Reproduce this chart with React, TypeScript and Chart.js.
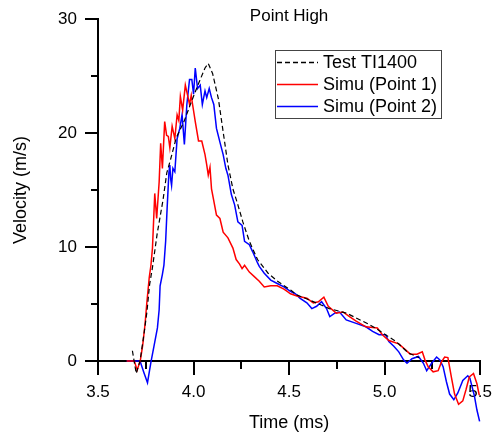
import React, { useEffect, useRef } from "react";
import { Chart, registerables } from "chart.js";

Chart.register(...registerables);

const chartTitle = "Point High";
const xAxisTitle = "Time (ms)";
const yAxisTitle = "Velocity (m/s)";
const seriesLabels = ["Test TI1400", "Simu (Point 1)", "Simu (Point 2)"];

const xTicks = [3.5, 4.0, 4.5, 5.0, 5.5];
const xMinorTicks = [3.75, 4.25, 4.75, 5.25];
const yTicks = [0, 10, 20, 30];
const yMinorTicks = [5, 15, 25];

const testTime = [3.68, 3.7, 3.72, 3.74, 3.756, 3.77, 3.785, 3.81, 3.84, 3.86, 3.88, 3.91, 3.95, 3.99, 4.03, 4.06, 4.077, 4.1, 4.13, 4.155, 4.18, 4.206, 4.232, 4.258, 4.292, 4.335, 4.39, 4.44, 4.51, 4.54, 4.6, 4.71, 4.8, 4.92, 4.95, 5.06, 5.125, 5.18];
const testVel = [0.9, -1.1, 0.0, 2.3, 4.3, 6.7, 8.2, 11.2, 14.1, 16.5, 17.7, 19.6, 21.0, 22.8, 24.5, 25.7, 26.1, 25.2, 23.0, 20.1, 17.2, 15.1, 13.7, 12.2, 10.5, 8.9, 7.7, 7.0, 6.2, 5.8, 5.4, 4.6, 4.2, 3.2, 2.9, 1.7, 0.7, 0.3];

const p1Time = [3.65, 3.69, 3.705, 3.722, 3.734, 3.746, 3.756, 3.768, 3.777, 3.785, 3.797, 3.807, 3.82, 3.828, 3.837, 3.849, 3.859, 3.868, 3.876, 3.888, 3.902, 3.914, 3.923, 3.931, 3.943, 3.957, 3.969, 3.979, 3.988, 3.995, 4.009, 4.026, 4.043, 4.06, 4.069, 4.077, 4.086, 4.094, 4.103, 4.12, 4.138, 4.155, 4.18, 4.206, 4.223, 4.241, 4.254, 4.267, 4.292, 4.318, 4.344, 4.37, 4.404, 4.438, 4.473, 4.49, 4.507, 4.541, 4.593, 4.627, 4.653, 4.682, 4.705, 4.747, 4.782, 4.816, 4.851, 4.902, 4.962, 4.988, 5.022, 5.074, 5.108, 5.134, 5.169, 5.197, 5.211, 5.228, 5.254, 5.28, 5.297, 5.314, 5.331, 5.349, 5.366, 5.387, 5.409, 5.426, 5.443, 5.465, 5.483, 5.495];
const p1Vel = [0, 0, -0.8, 0.1, 1.4, 3.2, 5.2, 7.3, 8.4, 9.9, 14.7, 12.5, 15.7, 19.1, 16.9, 21.0, 19.8, 19.7, 18.7, 20.6, 19.5, 21.6, 21.1, 23.2, 22.0, 24.2, 23.3, 22.5, 23.3, 22.5, 21.0, 19.3, 19.3, 18.1, 17.2, 16.3, 17.0, 15.1, 14.3, 12.8, 12.5, 11.3, 10.8, 9.9, 8.9, 8.5, 8.1, 8.4, 7.8, 7.4, 7.0, 6.5, 6.6, 6.6, 6.3, 6.1, 5.9, 5.7, 5.5, 5.1, 5.2, 5.6, 4.8, 4.2, 4.3, 3.9, 3.5, 3.0, 2.9, 2.3, 1.8, 1.5, 1.0, 0.6, 0.6, 0.8, 0.1, -0.5, -0.95, -0.85, -0.1, 0.35, 0.3, -1.4, -2.9, -3.8, -3.5, -2.5, -1.4, -1.1, -2.0, -3.0];

const p2Time = [3.65, 3.72, 3.74, 3.759, 3.777, 3.794, 3.811, 3.82, 3.825, 3.837, 3.845, 3.854, 3.862, 3.871, 3.876, 3.88, 3.885, 3.892, 3.902, 3.914, 3.928, 3.94, 3.952, 3.965, 3.979, 3.991, 4.0, 4.009, 4.021, 4.035, 4.046, 4.06, 4.069, 4.082, 4.094, 4.106, 4.12, 4.138, 4.155, 4.169, 4.18, 4.198, 4.215, 4.232, 4.254, 4.267, 4.292, 4.309, 4.335, 4.344, 4.37, 4.404, 4.438, 4.473, 4.507, 4.532, 4.558, 4.593, 4.619, 4.644, 4.67, 4.696, 4.713, 4.739, 4.764, 4.799, 4.851, 4.902, 4.937, 4.971, 5.005, 5.022, 5.048, 5.074, 5.099, 5.117, 5.143, 5.177, 5.203, 5.22, 5.246, 5.272, 5.289, 5.306, 5.323, 5.34, 5.362, 5.383, 5.409, 5.435, 5.446, 5.469, 5.483, 5.497];
const p2Vel = [0, 0, -1.0, -1.9, -0.1, 1.4, 2.9, 4.5, 6.6, 7.6, 8.4, 10.5, 13.5, 16.5, 17.2, 16.0, 15.4, 16.9, 16.6, 19.5, 20.4, 21.6, 19.0, 22.5, 24.7, 24.7, 23.4, 25.7, 23.9, 24.2, 22.5, 23.7, 23.1, 23.9, 23.1, 22.5, 20.4, 19.2, 18.1, 16.9, 16.3, 14.6, 13.7, 12.2, 11.9, 10.5, 10.2, 9.6, 8.6, 8.3, 7.7, 7.1, 6.8, 6.5, 6.1, 5.9, 5.5, 5.1, 4.6, 4.8, 5.2, 4.6, 3.9, 4.2, 4.3, 3.6, 3.3, 3.0, 2.6, 2.3, 2.3, 1.7, 1.3, 0.8, 0.1, -0.2, 0.2, 0.4, -0.2, -0.85, -0.2, 0.35, 0.1, -0.5, -1.8, -2.9, -3.4, -2.8, -1.7, -1.3, -1.5, -3.0, -4.3, -5.3];

const FONT = '"Liberation Sans", Arial, sans-serif';

const decorPlugin = {
  id: "decor",
  beforeDatasetsDraw(chart: any) {
    const { ctx, chartArea: a } = chart;
    const xs = chart.scales.x;
    const ys = chart.scales.y;
    ctx.save();
    ctx.strokeStyle = "#000";
    ctx.lineWidth = 2;
    xMinorTicks.forEach((v) => {
      const px = Math.round(xs.getPixelForValue(v));
      ctx.beginPath();
      ctx.moveTo(px, a.bottom);
      ctx.lineTo(px, a.bottom + 8);
      ctx.stroke();
    });
    yMinorTicks.forEach((v) => {
      const py = Math.round(ys.getPixelForValue(v));
      ctx.beginPath();
      ctx.moveTo(a.left, py);
      ctx.lineTo(a.left - 7, py);
      ctx.stroke();
    });
    ctx.restore();
  },
  afterDraw(chart: any) {
    const { ctx, chartArea: a } = chart;
    ctx.save();
    ctx.fillStyle = "#000";
    ctx.font = `17px ${FONT}`;
    ctx.textAlign = "center";
    ctx.textBaseline = "middle";
    ctx.fillText(chartTitle, (a.left + a.right) / 2, 16.5);

    // legend
    const bx = 275.5, by = 50.5, bw = 166, bh = 68;
    ctx.fillStyle = "#fff";
    ctx.fillRect(bx, by, bw, bh);
    ctx.strokeStyle = "#444";
    ctx.lineWidth = 1;
    ctx.strokeRect(bx, by, bw, bh);
    ctx.font = `18px ${FONT}`;
    ctx.textAlign = "left";
    chart.data.datasets.forEach((ds: any, i: number) => {
      const ry = 62.5 + i * 22;
      ctx.strokeStyle = ds.borderColor;
      ctx.lineWidth = 1.3;
      ctx.setLineDash(ds.borderDash || []);
      ctx.beginPath();
      ctx.moveTo(277, ry);
      ctx.lineTo(318, ry);
      ctx.stroke();
      ctx.setLineDash([]);
      ctx.fillStyle = "#000";
      ctx.fillText(ds.label, 323, ry + 1);
    });
    ctx.restore();
  },
};

function toPoints(t: number[], v: number[]) {
  return t.map((x, i) => ({ x, y: v[i] }));
}

export default function App() {
  const ref = useRef<HTMLCanvasElement | null>(null);
  useEffect(() => {
    if (!ref.current) return;
    Chart.defaults.font.family = FONT;
    Chart.defaults.color = "#000";
    const chart = new Chart(ref.current, {
      type: "line",
      data: {
        datasets: [
          {
            label: seriesLabels[0],
            data: toPoints(testTime, testVel),
            borderColor: "#000",
            borderWidth: 1.2,
            borderDash: [5, 3],
            pointRadius: 0,
            clip: false,
          },
          {
            label: seriesLabels[1],
            data: toPoints(p1Time, p1Vel),
            borderColor: "#ff0000",
            borderWidth: 1.5,
            pointRadius: 0,
            clip: false,
          },
          {
            label: seriesLabels[2],
            data: toPoints(p2Time, p2Vel),
            borderColor: "#0000ff",
            borderWidth: 1.5,
            pointRadius: 0,
            clip: false,
          },
        ] as any,
      },
      options: {
        animation: false,
        responsive: false,
        devicePixelRatio: 1,
        layout: { padding: { left: 0, right: 13, top: 19, bottom: 0 } },
        plugins: { legend: { display: false }, title: { display: false }, tooltip: { enabled: false } },
        scales: {
          x: {
            type: "linear",
            min: 3.5,
            max: 5.5,
            afterFit: (s: any) => { s.height = 75; },
            afterBuildTicks: (s: any) => { s.ticks = xTicks.map((value) => ({ value })); },
            grid: { drawOnChartArea: false, drawTicks: true, tickLength: 14, lineWidth: 2, color: "#000" },
            border: { display: true, width: 2, color: "#000" },
            ticks: { font: { size: 17 }, color: "#000", padding: 7, callback: (v: any) => Number(v).toFixed(1), maxRotation: 0 },
            title: { display: true, text: xAxisTitle, font: { size: 18 }, color: "#000", padding: { top: 0, bottom: 2 } },
          },
          y: {
            type: "linear",
            min: 0,
            max: 30,
            afterFit: (s: any) => { s.width = 98; },
            afterBuildTicks: (s: any) => { s.ticks = yTicks.map((value) => ({ value })); },
            grid: { drawOnChartArea: false, drawTicks: true, tickLength: 13, lineWidth: 2, color: "#000" },
            border: { display: true, width: 2, color: "#000" },
            ticks: { font: { size: 17 }, color: "#000", padding: 8, callback: (v: any) => String(v) },
            title: { display: true, text: yAxisTitle, font: { size: 18 }, color: "#000", padding: { top: 10, bottom: 0 } },
          },
        },
      } as any,
      plugins: [decorPlugin],
    });
    return () => chart.destroy();
  }, []);
  return (
    <div style={{ position: "absolute", left: 0, top: 0, width: 499, height: 436, background: "#fff" }}>
      <canvas ref={ref} width={499} height={436} style={{ display: "block" }} />
    </div>
  );
}
